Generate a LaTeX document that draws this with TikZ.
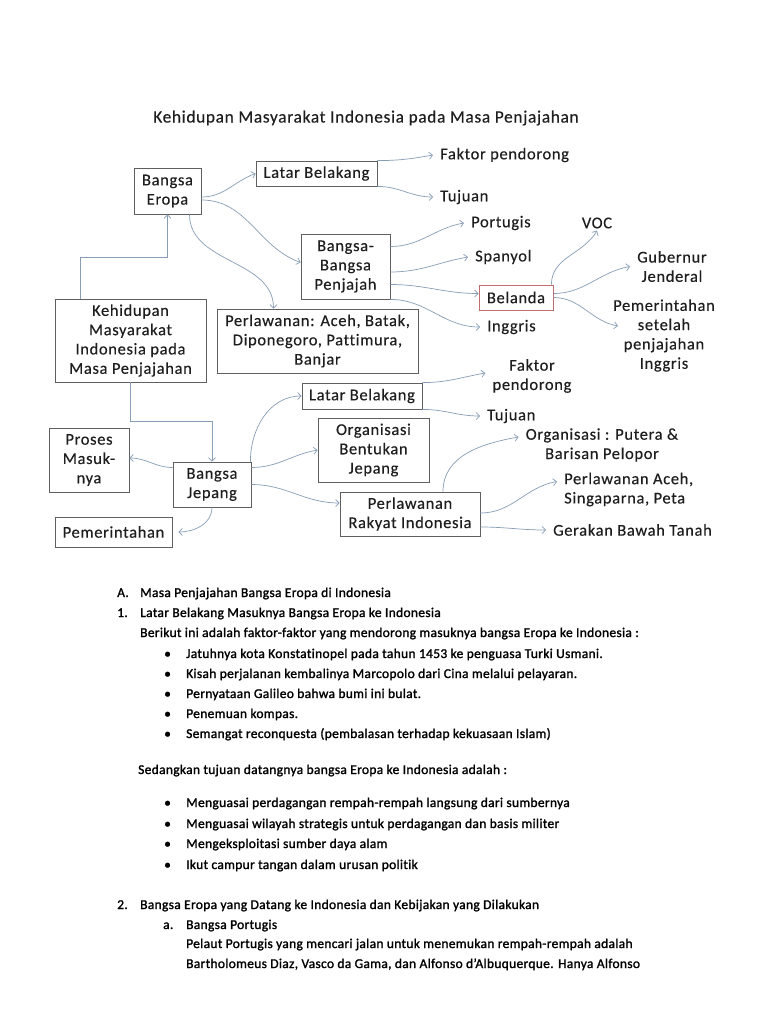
\documentclass[tikz,border=0pt]{standalone}
\usepackage{fontspec}
\setmainfont[Ligatures=CommonOff]{Carlito}
\newfontfamily\diagfam[FakeBold=0.3,LetterSpace=4,Ligatures=CommonOff]{Carlito}
\newfontfamily\bodyfont[FakeBold=1.4,LetterSpace=2.3,Ligatures=CommonOff]{Carlito}
\usetikzlibrary{arrows.meta}
\definecolor{boxline}{RGB}{95,95,95}
\definecolor{linkline}{RGB}{135,158,182}
\definecolor{belandaline}{RGB}{195,110,110}
\definecolor{txt}{RGB}{30,30,30}
\newcommand{\diagfont}{\diagfam\fontsize{16.5}{19.3}\selectfont}
\newcommand{\titlefont}{\diagfam\fontsize{17.3}{20}\selectfont}
\newcommand{\bodytext}{\bodyfont\fontsize{13.5}{20}\selectfont}
\tikzset{
	box/.style={draw=boxline, line width=0.8pt, align=center, inner sep=0pt, font=\diagfont, text=txt},
	lbl/.style={align=center, inner xsep=7pt, inner ysep=2pt, font=\diagfont, text=txt},
	link/.style={draw=linkline, line width=0.7pt, -{Straight Barb[length=3.5pt,width=7pt]}},
	body/.style={anchor=base west, inner sep=0pt, font=\bodytext, text=black},
}
\begin{document}
\begin{tikzpicture}[x=1pt,y=-1pt]
	\fill[white] (0,0) rectangle (768,1024);
	\useasboundingbox (0,0) rectangle (768,1024);
	\node[font=\titlefont, text=txt] (judul) at (366,118) {Kehidupan Masyarakat Indonesia pada Masa Penjajahan};
	\node[box, minimum width=67pt, minimum height=46pt] (eropa) at (167.5,191) {Bangsa\\Eropa};
	\node[box, minimum width=121pt, minimum height=25pt] (latarA) at (316.5,173.5) {Latar Belakang};
	\node[box, minimum width=89pt, minimum height=65pt] (penjajah) at (345.5,266.5) {Bangsa-\\Bangsa\\Penjajah};
	\node[box, draw=belandaline, minimum width=74pt, minimum height=25pt] (belanda) at (516,297.5) {Belanda};
	\node[box, minimum width=151pt, minimum height=83pt] (kehidupan) at (130.5,340.5) {Kehidupan\\Masyarakat\\Indonesia pada\\Masa Penjajahan};
	\node[box, minimum width=201pt, minimum height=64pt] (perlawanan) at (317.5,341) {Perlawanan: Aceh, Batak,\\Diponegoro, Pattimura,\\Banjar};
	\node[box, minimum width=120pt, minimum height=26pt] (latarB) at (362,396) {Latar Belakang};
	\node[box, minimum width=111pt, minimum height=64pt] (organisasi) at (373.5,450) {Organisasi\\Bentukan\\Jepang};
	\node[box, minimum width=140pt, minimum height=44pt] (rakyat) at (410,514) {Perlawanan\\Rakyat Indonesia};
	\node[box, minimum width=80pt, minimum height=64pt] (proses) at (89,460) {Proses\\Masuk-\\nya};
	\node[box, minimum width=78pt, minimum height=45pt] (jepang) at (212,484.5) {Bangsa\\Jepang};
	\node[box, minimum width=117pt, minimum height=30pt] (pemerintahanA) at (113.5,532) {Pemerintahan};
	\node[lbl, anchor=west] (faktorA) at (433,155) {Faktor pendorong};
	\node[lbl, anchor=west] (tujuanA) at (433,197) {Tujuan};
	\node[lbl, anchor=west] (portugis) at (464,223) {Portugis};
	\node[lbl, anchor=west] (spanyol) at (468,257) {Spanyol};
	\node[lbl, anchor=west] (inggris) at (480,327) {Inggris};
	\node[lbl] (voc) at (597,223) {VOC};
	\node[lbl] (gubernur) at (672,266.5) {Gubernur\\Jenderal};
	\node[lbl] (setelah) at (664,335.5) {Pemerintahan\\setelah\\penjajahan\\Inggris};
	\node[lbl] (faktorB) at (532,376) {Faktor\\pendorong};
	\node[lbl, anchor=west] (tujuanB) at (480,416) {Tujuan};
	\node[lbl] (putera) at (602,445) {Organisasi : Putera \&\\Barisan Pelopor};
	\node[lbl, align=left, anchor=west] (aceh) at (557,489.5) {Perlawanan Aceh,\\Singaparna, Peta};
	\node[lbl, anchor=west] (gerakan) at (546,530) {Gerakan Bawah Tanah};
	\draw[link] ([yshift=-6pt]eropa.east) to[out=0,in=200] (latarA.west);
	\draw[link] (latarA.north east) to[out=0,in=190] (faktorA.west);
	\draw[link] (latarA.south east) to[out=0,in=180] (tujuanA.west);
	\draw[link] ([yshift=-9pt]eropa.east) to[out=0,in=160] ([yshift=4pt]penjajah.west);
	\draw[link] ([xshift=22pt]eropa.south) to[out=-90,in=90] ([xshift=-44pt]perlawanan.north);
	\draw[link] ([xshift=-50pt]kehidupan.north) |- ([yshift=-43pt]eropa.south) -- (eropa.south);
	\draw[link] (kehidupan.south) |- ([yshift=40pt]jepang.north) -- (jepang.north);
	\draw[link] ([yshift=20pt]penjajah.east) to[out=0,in=190] (portugis.west);
	\draw[link] ([yshift=-5.5pt]penjajah.east) to[out=0,in=190] (spanyol.west);
	\draw[link] ([yshift=-18pt]penjajah.east) to[out=0,in=180] ([yshift=4pt]belanda.west);
	\draw[link] (penjajah.south east) to[out=0,in=180] (inggris.west);
	\draw[link] ([xshift=-2pt]belanda.north east) to[out=90,in=240] (voc.south);
	\draw[link] ([yshift=4pt]belanda.east) to[out=0,in=190] (gubernur.west);
	\draw[link] (belanda.east) to[out=0,in=170] ([xshift=12pt,yshift=9.5pt]setelah.west);
	\draw[link] (latarB.north east) to[out=0,in=190] ([yshift=3pt]faktorB.west);
	\draw[link] (latarB.south east) to[out=0,in=180] (tujuanB.west);
	\draw[link] ([xshift=-1pt]jepang.north east) to[out=90,in=180] (latarB.west);
	\draw[link] ([yshift=17pt]jepang.east) to[out=0,in=190] (organisasi.west);
	\draw[link] (jepang.east) to[out=0,in=180] ([yshift=11pt]rakyat.west);
	\draw[link] ([yshift=17pt]jepang.west) to[out=180,in=0] ([yshift=2pt]proses.east);
	\draw[link] (jepang.south) to[out=-90,in=0] ([xshift=6pt]pemerintahanA.east);
	\draw[link] ([xshift=33pt]rakyat.north) to[out=90,in=190] ([yshift=8pt]putera.west);
	\draw[link] ([yshift=1pt]rakyat.east) to[out=0,in=190] ([yshift=8pt]aceh.west);
	\draw[link] ([yshift=-13pt]rakyat.east) to[out=0,in=180] (gerakan.west);
	\node[body] (hurufA) at (117,597) {A.};
	\node[body] (judulA) at (140,597) {Masa Penjajahan Bangsa Eropa di Indonesia};
	\node[body] (angka1) at (117,617) {1.};
	\node[body] (judul1) at (140,617) {Latar Belakang Masuknya Bangsa Eropa ke Indonesia};
	\node[body] (berikut) at (140,637) {Berikut ini adalah faktor-faktor yang mendorong masuknya bangsa Eropa ke Indonesia :};
	\node[body] (titikA) at (164,658) {•};
	\node[body] (faktorSatu) at (186,658) {Jatuhnya kota Konstatinopel pada tahun 1453 ke penguasa Turki Usmani.};
	\node[body] (titikB) at (164,678) {•};
	\node[body] (faktorDua) at (186,678) {Kisah perjalanan kembalinya Marcopolo dari Cina melalui pelayaran.};
	\node[body] (titikC) at (164,698) {•};
	\node[body] (faktorTiga) at (186,698) {Pernyataan Galileo bahwa bumi ini bulat.};
	\node[body] (titikD) at (164,718) {•};
	\node[body] (faktorEmpat) at (186,718) {Penemuan kompas.};
	\node[body] (titikE) at (164,738) {•};
	\node[body] (faktorLima) at (186,738) {Semangat reconquesta (pembalasan terhadap kekuasaan Islam)};
	\node[body] (sedangkan) at (138,774) {Sedangkan tujuan datangnya bangsa Eropa ke Indonesia adalah :};
	\node[body] (titikF) at (164,807) {•};
	\node[body] (tujuanSatu) at (186,807) {Menguasai perdagangan rempah-rempah langsung dari sumbernya};
	\node[body] (titikG) at (164,828) {•};
	\node[body] (tujuanDua) at (186,828) {Menguasai wilayah strategis untuk perdagangan dan basis militer};
	\node[body] (titikH) at (164,848) {•};
	\node[body] (tujuanTiga) at (186,848) {Mengeksploitasi sumber daya alam};
	\node[body] (titikI) at (164,869) {•};
	\node[body] (tujuanEmpat) at (186,869) {Ikut campur tangan dalam urusan politik};
	\node[body] (angka2) at (117,909) {2.};
	\node[body] (judul2) at (140,909) {Bangsa Eropa yang Datang ke Indonesia dan Kebijakan yang Dilakukan};
	\node[body] (hurufa) at (163,929) {a.};
	\node[body] (portugisJudul) at (186,929) {Bangsa Portugis};
	\node[body] (pelaut) at (186,948) {Pelaut Portugis yang mencari jalan untuk menemukan rempah-rempah adalah};
	\node[body] (bartholomeus) at (186,968) {Bartholomeus Diaz, Vasco da Gama, dan Alfonso d’Albuquerque. Hanya Alfonso};
\end{tikzpicture}
\end{document}
